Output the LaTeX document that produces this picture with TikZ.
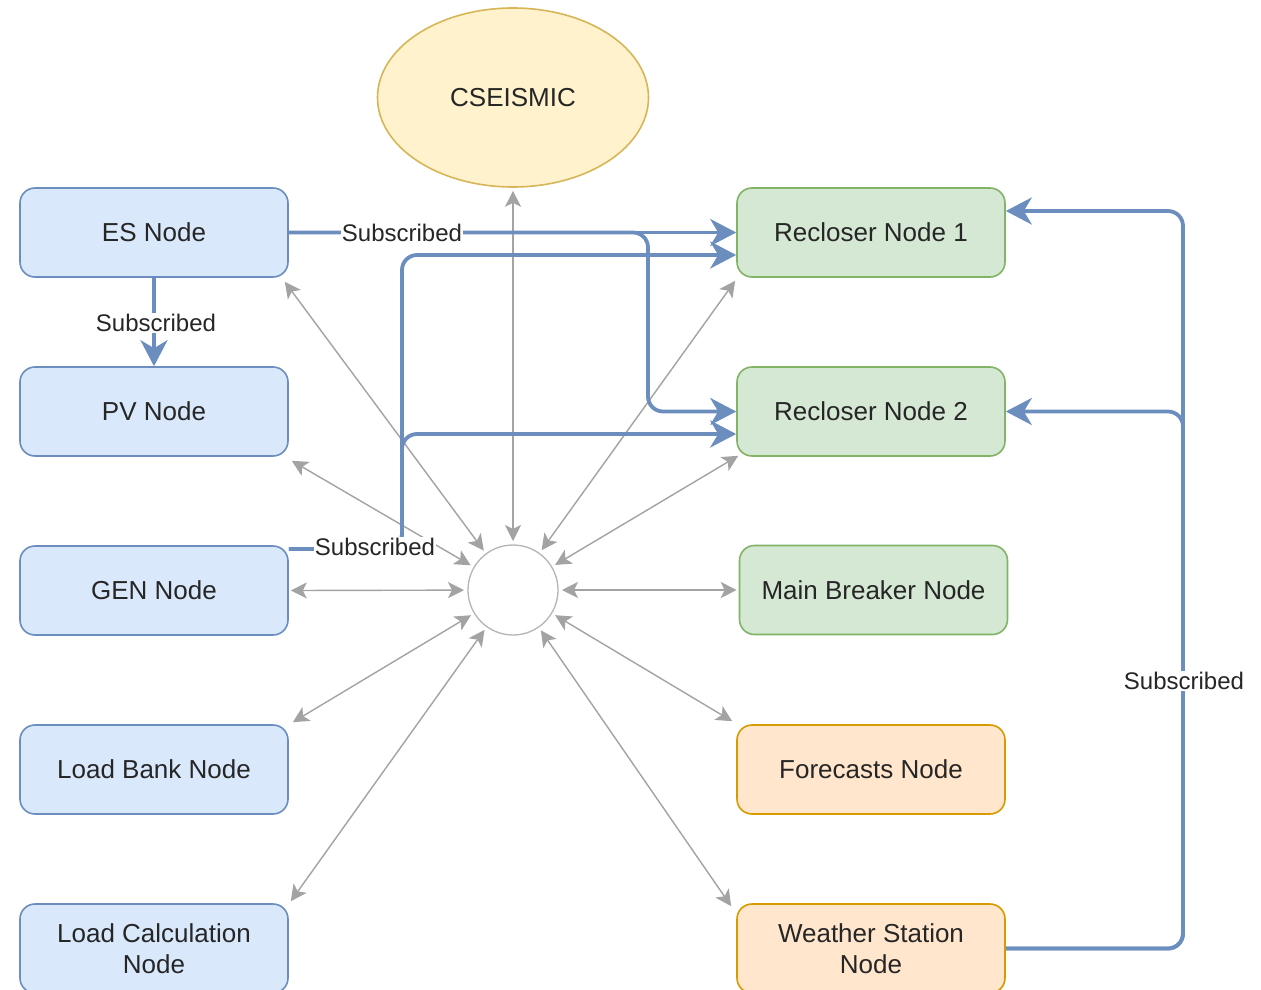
\documentclass[tikz,border=0pt]{standalone}
\usepackage{fontspec}
\setmainfont{Liberation Sans}
\usetikzlibrary{arrows.meta,calc,shapes.geometric}
\definecolor{bfill}{HTML}{DAE8FC}\definecolor{bdraw}{HTML}{6C8EBF}
\definecolor{gfill}{HTML}{D5E8D4}\definecolor{gdraw}{HTML}{82B366}
\definecolor{ofill}{HTML}{FFE6CC}\definecolor{odraw}{HTML}{D79B00}
\definecolor{yfill}{HTML}{FFF2CC}\definecolor{ydraw}{HTML}{D6B656}
\definecolor{txt}{HTML}{262626}
\definecolor{grayln}{HTML}{A3A3A3}
\begin{document}
\begin{tikzpicture}[x=1pt,y=-1pt,
  font=\fontsize{26}{31}\selectfont,
  box/.style={rectangle, rounded corners=15pt, minimum width=268pt, minimum height=89pt,
    line width=1.6pt, text=txt, align=center, inner sep=0pt},
  bluebox/.style={box, fill=bfill, draw=bdraw},
  greenbox/.style={box, fill=gfill, draw=gdraw},
  orangebox/.style={box, fill=ofill, draw=odraw},
  sub/.style={draw=bdraw, line width=3.8pt, rounded corners=15pt,
    -{Stealth[length=26pt,width=27pt,inset=8pt]}},
  link/.style={draw=grayln, line width=1.4pt,
    {Stealth[length=16pt,width=16pt,inset=4pt]}-{Stealth[length=16pt,width=16pt,inset=4pt]}},
  lbl/.style={fill=white, inner sep=1pt, text=txt, font=\fontsize{24}{28}\selectfont}]
\useasboundingbox (0,0) rectangle (1261,990);
\fill[white] (0,0) rectangle (1261,990);

% nodes
\node[bluebox] (es) at (154,232.5) {ES Node};
\node[bluebox] (pv) at (154,411.5) {PV Node};
\node[bluebox] (gen) at (154,590.5) {GEN Node};
\node[bluebox] (lb) at (154,769.5) {Load Bank Node};
\node[bluebox] (lc) at (154,948.5) {Load Calculation\\Node};
\node[greenbox] (r1) at (871,232.5) {Recloser Node 1};
\node[greenbox] (r2) at (871,411.5) {Recloser Node 2};
\node[greenbox] (mb) at (873.5,590) {Main Breaker Node};
\node[orangebox] (fc) at (871,769.5) {Forecasts Node};
\node[orangebox] (ws) at (871,948.5) {Weather Station\\Node};
\node[ellipse, fill=yfill, draw=ydraw, line width=1.6pt, minimum width=271pt, minimum height=179pt,
  inner sep=0pt, text=txt] (cs) at (513,97.5) {CSEISMIC};
\node[circle, draw=grayln!80, line width=1.3pt, minimum size=90pt, inner sep=0pt] (hub) at (513,590) {};

% gray link end points
\coordinate (pes) at ($(es.south east)+(-4,4)$);
\coordinate (ppv) at ($(pv.south east)+(3,4)$);
\coordinate (pgen) at ($(gen.east)+(2,0)$);
\coordinate (plb) at ($(lb.north east)+(4,-2)$);
\coordinate (plc) at ($(lc.north east)+(2,-2)$);
\coordinate (pcs) at ($(cs.south)+(0,3)$);
\coordinate (pr1) at ($(r1.south west)+(-1,3)$);
\coordinate (pr2) at ($(r2.south west)+(2,-1)$);
\coordinate (pmb) at ($(mb.west)+(-2,0)$);
\coordinate (pfc) at ($(fc.north west)+(-4,-3)$);
\coordinate (pws) at ($(ws.north west)+(-5,3)$);

\foreach \p in {pes,ppv,pgen,plb,plc,pcs,pr1,pr2,pmb,pfc,pws}
  \draw[link] (\p) -- ($(hub)!49pt!(\p)$);

% subscriptions
\coordinate (genout) at ($(gen.east)+(0,-41.5)$);
\draw[sub] (es.east) -- (r1.west);
\draw[sub] (es.east) -- (648,232.5) -- (648,411.5) -- (r2.west);
\draw[sub] (genout) -- (402,549) -- (402,255) -- ($(r1.west)+(0,22.5)$);
\draw[sub] (genout) -- (402,549) -- (402,434) -- ($(r2.west)+(0,22.5)$);
\draw[sub] (es.south) -- (pv.north);
\draw[sub] (ws.east) -- (1183,948.5) -- (1183,211) -- ($(r1.east)+(0,-21.5)$);
\draw[sub] (ws.east) -- (1183,948.5) -- (1183,411.5) -- (r2.east);

% labels
\node[lbl] (l1) at (402,233) {Subscribed};
\node[lbl] (l2) at (156,323) {Subscribed};
\node[lbl] (l3) at (375,547) {Subscribed};
\node[lbl] (l4) at (1184,681) {Subscribed};
\end{tikzpicture}
\end{document}
